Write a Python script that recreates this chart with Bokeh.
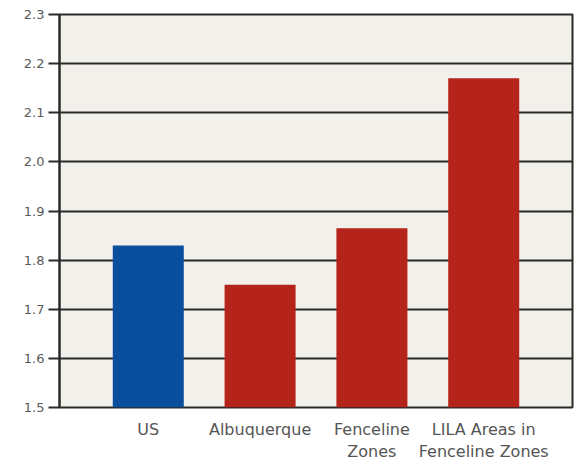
from bokeh.plotting import figure
from bokeh.models import FactorRange, Range1d, FixedTicker, ColumnDataSource
from bokeh.embed import file_html
from bokeh.resources import INLINE

categories = ["US", "Albuquerque", "Fenceline\nZones", "LILA Areas in\nFenceline Zones"]
values = [1.83, 1.75, 1.865, 2.17]
colors = ["#0a4f9e", "#b5241b", "#b5241b", "#b5241b"]
y_ticks = [1.5, 1.6, 1.7, 1.8, 1.9, 2.0, 2.1, 2.2, 2.3]
y_labels = {1.5: "1.5", 1.6: "1.6", 1.7: "1.7", 1.8: "1.8", 1.9: "1.9",
            2.0: "2.0", 2.1: "2.1", 2.2: "2.2", 2.3: "2.3"}

FONT = "DejaVu Sans"

src = ColumnDataSource(dict(cat=categories, val=values, color=colors))

p = figure(
    x_range=FactorRange(factors=categories, range_padding=0.294, range_padding_units="absolute"),
    y_range=Range1d(1.5, 2.3),
    width=574, height=463,
    min_border_left=59, min_border_right=2, min_border_top=14, min_border_bottom=56,
    output_backend="svg", toolbar_location=None,
    background_fill_color="#f2f0ea", border_fill_color="white",
)

p.vbar(x="cat", top="val", bottom=1.5, width=0.635, fill_color="color", line_color=None, source=src)

p.outline_line_color = "#2a2a2a"
p.outline_line_width = 2
p.outline_line_alpha = 1

p.xgrid.grid_line_color = None
p.ygrid.grid_line_color = "#2a2a2a"
p.ygrid.grid_line_width = 2
p.ygrid.ticker = FixedTicker(ticks=y_ticks)

p.yaxis.ticker = FixedTicker(ticks=y_ticks)
p.yaxis.major_label_overrides = y_labels
p.yaxis.axis_line_color = "#2a2a2a"
p.yaxis.axis_line_width = 2
p.yaxis.major_tick_line_color = "#2a2a2a"
p.yaxis.major_tick_line_width = 2
p.yaxis.major_tick_out = 11
p.yaxis.major_tick_in = 0
p.yaxis.minor_tick_line_color = None
p.yaxis.major_label_standoff = 4
p.yaxis.major_label_text_font = FONT
p.yaxis.major_label_text_font_size = "13px"
p.yaxis.major_label_text_color = "#5a5a5a"

p.xaxis.axis_line_color = None
p.xaxis.major_tick_line_color = None
p.xaxis.minor_tick_line_color = None
p.xaxis.major_label_standoff = 6
p.xaxis.major_label_text_font = FONT
p.xaxis.major_label_text_font_size = "16px"
p.xaxis.major_label_text_color = "#555555"
p.xaxis.major_label_text_line_height = 1.18

open("out.html", "w").write(file_html(p, INLINE))
